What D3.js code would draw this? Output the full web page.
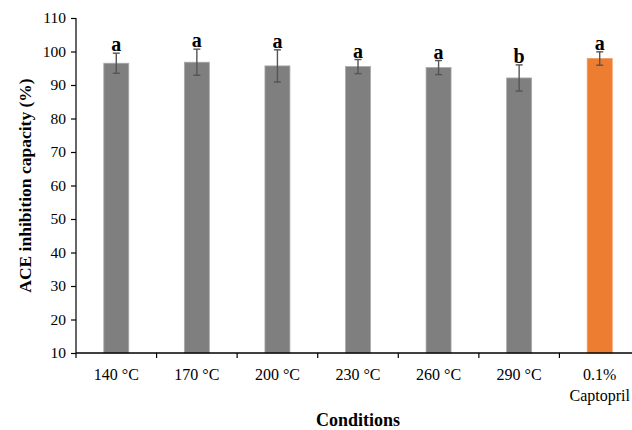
<!DOCTYPE html>
<html>
<head>
<meta charset="utf-8">
<script src="https://cdn.jsdelivr.net/npm/d3@7/dist/d3.min.js"></script>
<style>
  body { margin: 0; background: #fff; }
  svg { display: block; }
  svg text { font-family: "Liberation Serif", "Times New Roman", serif; fill: #000; }
</style>
</head>
<body>
<div id="chart"></div>
<script>
// chart data
var conditions = ["140 °C", "170 °C", "200 °C", "230 °C", "260 °C", "290 °C", "0.1%|Captopril"];
var inhibition = [96.5, 96.8, 95.7, 95.5, 95.2, 92.1, 97.9];
var errors = [3.0, 3.9, 4.8, 2.1, 2.1, 3.9, 2.0];
var letters = ["a", "a", "a", "a", "a", "b", "a"];
var barColors = ["#7f7f7f", "#7f7f7f", "#7f7f7f", "#7f7f7f", "#7f7f7f", "#7f7f7f", "#ed7d31"];
var yTicks = [10, 20, 30, 40, 50, 60, 70, 80, 90, 100, 110];

function init() {
    var w = 632;
    var h = 430;
    var left = 76, top = 18, right = 640, bottom = 353;

    var svg = d3.select("#chart")
        .append("svg")
        .attr("width", w)
        .attr("height", h);

    var xScale = d3.scaleBand()
        .domain(conditions)
        .range([left, right])
        .paddingInner(0.69)
        .paddingOuter(0.345);

    var yScale = d3.scaleLinear()
        .domain([10, 110])
        .range([bottom, top]);

    // bars
    svg.selectAll(".bar")
        .data(conditions)
        .enter()
        .append("rect")
        .attr("class", "bar")
        .attr("x", function (d) { return xScale(d); })
        .attr("y", function (d, i) { return yScale(inhibition[i]); })
        .attr("width", xScale.bandwidth())
        .attr("height", function (d, i) { return yScale(10) - yScale(inhibition[i]); })
        .attr("fill", function (d, i) { return barColors[i]; })
        .attr("stroke", function (d, i) { return i < 6 ? "#a8a8a8" : "#f19a5c"; })
        .attr("stroke-width", 0.8);

    // error bars
    var errG = svg.selectAll(".err")
        .data(conditions)
        .enter()
        .append("g")
        .attr("class", "err")
        .attr("stroke", "#555")
        .attr("stroke-width", 1.4);

    errG.append("line")
        .attr("x1", function (d) { return xScale(d) + xScale.bandwidth() / 2; })
        .attr("x2", function (d) { return xScale(d) + xScale.bandwidth() / 2; })
        .attr("y1", function (d, i) { return yScale(inhibition[i] - errors[i]); })
        .attr("y2", function (d, i) { return yScale(inhibition[i] + errors[i]); });

    [-1, 1].forEach(function (s) {
        errG.append("line")
            .attr("x1", function (d) { return xScale(d) + xScale.bandwidth() / 2 - 3.5; })
            .attr("x2", function (d) { return xScale(d) + xScale.bandwidth() / 2 + 3.5; })
            .attr("y1", function (d, i) { return yScale(inhibition[i] + s * errors[i]); })
            .attr("y2", function (d, i) { return yScale(inhibition[i] + s * errors[i]); });
    });

    // significance letters
    svg.selectAll(".letter")
        .data(conditions)
        .enter()
        .append("text")
        .attr("class", "letter")
        .attr("x", function (d) { return xScale(d) + xScale.bandwidth() / 2; })
        .attr("y", function (d, i) { return yScale(inhibition[i] + errors[i]) - 2; })
        .attr("text-anchor", "middle")
        .style("font-size", "20px")
        .style("font-weight", "bold")
        .text(function (d, i) { return letters[i]; });

    // axes
    var yAxis = d3.axisLeft(yScale)
        .tickValues(yTicks)
        .tickSize(5)
        .tickPadding(5);

    var gy = svg.append("g")
        .attr("transform", "translate(" + left + ",0)")
        .call(yAxis)
        .attr("font-family", null)
        .attr("font-size", null);
    gy.select(".domain").attr("stroke", "#000").attr("stroke-width", 1.2).attr("d", "M0," + top + "V" + bottom);
    gy.selectAll(".tick line").attr("stroke", "#000").attr("stroke-width", 1.2);
    gy.selectAll(".tick text").style("font-size", "15.5px");

    var xAxis = d3.axisBottom(xScale)
        .tickSize(0)
        .tickFormat("");

    var gx = svg.append("g")
        .attr("transform", "translate(0," + bottom + ")")
        .call(xAxis);
    gx.select(".domain").attr("stroke", "#000").attr("stroke-width", 1.4).attr("d", "M" + left + ",0H" + right);

    // category tick marks between bands
    var step = xScale.step();
    svg.selectAll(".xtick")
        .data(conditions)
        .enter()
        .append("line")
        .attr("x1", function (d) { return xScale(d) - (step - xScale.bandwidth()) / 2; })
        .attr("x2", function (d) { return xScale(d) - (step - xScale.bandwidth()) / 2; })
        .attr("y1", bottom)
        .attr("y2", bottom + 5)
        .attr("stroke", "#000")
        .attr("stroke-width", 1.2);

    // category labels (two lines for captopril)
    var lab = svg.selectAll(".xlab")
        .data(conditions)
        .enter()
        .append("text")
        .attr("class", "xlab")
        .attr("text-anchor", "middle")
        .attr("y", 380);

    lab.each(function (d) {
        var parts = d.split("|");
        var t = d3.select(this);
        parts.forEach(function (p, k) {
            t.append("tspan")
                .attr("x", xScale(d) + xScale.bandwidth() / 2)
                .attr("dy", k === 0 ? 0 : 21)
                .style("font-size", "16px")
                .text(p);
        });
    });

    // axis titles
    svg.append("text")
        .attr("x", (left + right) / 2)
        .attr("y", 426)
        .attr("text-anchor", "middle")
        .style("font-size", "18px")
        .style("font-weight", "bold")
        .text("Conditions");

    svg.append("text")
        .attr("transform", "translate(31," + (top + bottom) / 2 + ") rotate(-90)")
        .attr("text-anchor", "middle")
        .style("font-size", "17.5px")
        .style("font-weight", "bold")
        .text("ACE inhibition capacity (%)");
}

window.onload = init;
</script>
</body>
</html>
